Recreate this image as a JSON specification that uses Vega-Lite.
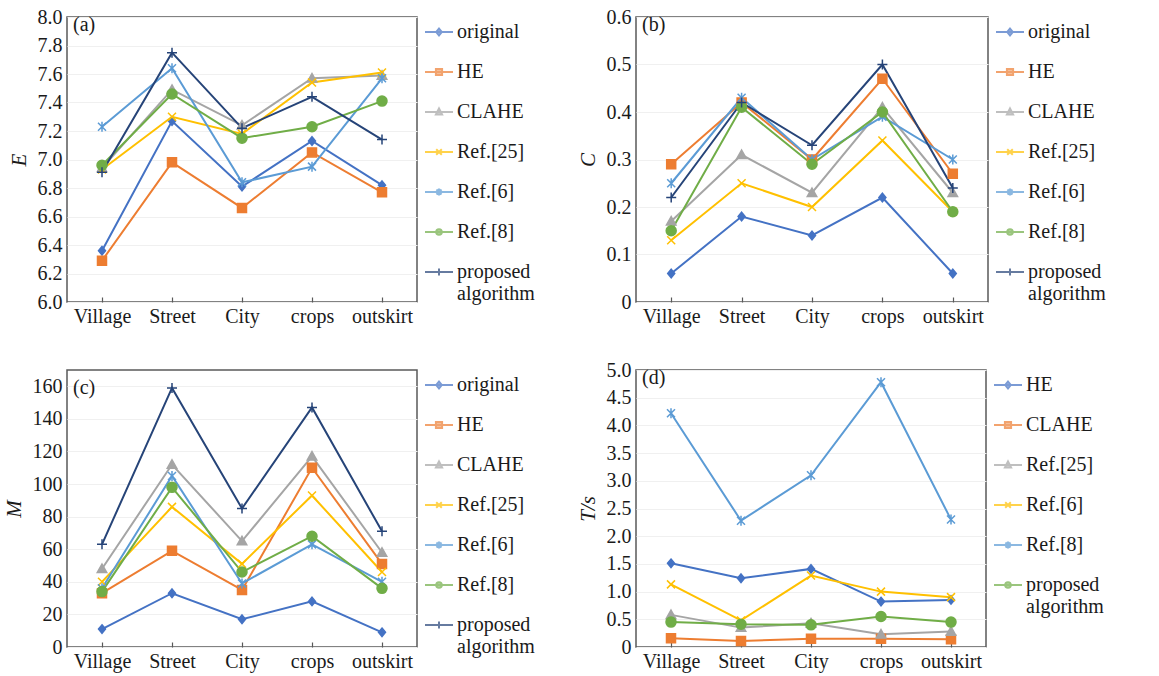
{
  "$schema": "https://vega.github.io/schema/vega-lite/v6.json",
  "background": "white",
  "padding": {"left": 2, "top": 6, "right": 4, "bottom": 2},
  "datasets": {
    "a": [
      {"cat": "Village", "series": "original", "v": 6.36}, {"cat": "Street", "series": "original", "v": 7.27}, {"cat": "City", "series": "original", "v": 6.81}, {"cat": "crops", "series": "original", "v": 7.13}, {"cat": "outskirt", "series": "original", "v": 6.82},
      {"cat": "Village", "series": "HE", "v": 6.29}, {"cat": "Street", "series": "HE", "v": 6.98}, {"cat": "City", "series": "HE", "v": 6.66}, {"cat": "crops", "series": "HE", "v": 7.05}, {"cat": "outskirt", "series": "HE", "v": 6.77},
      {"cat": "Village", "series": "CLAHE", "v": 6.94}, {"cat": "Street", "series": "CLAHE", "v": 7.49}, {"cat": "City", "series": "CLAHE", "v": 7.24}, {"cat": "crops", "series": "CLAHE", "v": 7.57}, {"cat": "outskirt", "series": "CLAHE", "v": 7.59},
      {"cat": "Village", "series": "Ref.[25]", "v": 6.93}, {"cat": "Street", "series": "Ref.[25]", "v": 7.30}, {"cat": "City", "series": "Ref.[25]", "v": 7.18}, {"cat": "crops", "series": "Ref.[25]", "v": 7.54}, {"cat": "outskirt", "series": "Ref.[25]", "v": 7.61},
      {"cat": "Village", "series": "Ref.[6]", "v": 7.23}, {"cat": "Street", "series": "Ref.[6]", "v": 7.64}, {"cat": "City", "series": "Ref.[6]", "v": 6.84}, {"cat": "crops", "series": "Ref.[6]", "v": 6.95}, {"cat": "outskirt", "series": "Ref.[6]", "v": 7.57},
      {"cat": "Village", "series": "Ref.[8]", "v": 6.96}, {"cat": "Street", "series": "Ref.[8]", "v": 7.46}, {"cat": "City", "series": "Ref.[8]", "v": 7.15}, {"cat": "crops", "series": "Ref.[8]", "v": 7.23}, {"cat": "outskirt", "series": "Ref.[8]", "v": 7.41},
      {"cat": "Village", "series": "proposed algorithm", "v": 6.91}, {"cat": "Street", "series": "proposed algorithm", "v": 7.75}, {"cat": "City", "series": "proposed algorithm", "v": 7.22}, {"cat": "crops", "series": "proposed algorithm", "v": 7.44}, {"cat": "outskirt", "series": "proposed algorithm", "v": 7.14}
    ],
    "b": [
      {"cat": "Village", "series": "original", "v": 0.06}, {"cat": "Street", "series": "original", "v": 0.18}, {"cat": "City", "series": "original", "v": 0.14}, {"cat": "crops", "series": "original", "v": 0.22}, {"cat": "outskirt", "series": "original", "v": 0.06},
      {"cat": "Village", "series": "HE", "v": 0.29}, {"cat": "Street", "series": "HE", "v": 0.42}, {"cat": "City", "series": "HE", "v": 0.30}, {"cat": "crops", "series": "HE", "v": 0.47}, {"cat": "outskirt", "series": "HE", "v": 0.27},
      {"cat": "Village", "series": "CLAHE", "v": 0.17}, {"cat": "Street", "series": "CLAHE", "v": 0.31}, {"cat": "City", "series": "CLAHE", "v": 0.23}, {"cat": "crops", "series": "CLAHE", "v": 0.41}, {"cat": "outskirt", "series": "CLAHE", "v": 0.23},
      {"cat": "Village", "series": "Ref.[25]", "v": 0.13}, {"cat": "Street", "series": "Ref.[25]", "v": 0.25}, {"cat": "City", "series": "Ref.[25]", "v": 0.20}, {"cat": "crops", "series": "Ref.[25]", "v": 0.34}, {"cat": "outskirt", "series": "Ref.[25]", "v": 0.19},
      {"cat": "Village", "series": "Ref.[6]", "v": 0.25}, {"cat": "Street", "series": "Ref.[6]", "v": 0.43}, {"cat": "City", "series": "Ref.[6]", "v": 0.30}, {"cat": "crops", "series": "Ref.[6]", "v": 0.39}, {"cat": "outskirt", "series": "Ref.[6]", "v": 0.30},
      {"cat": "Village", "series": "Ref.[8]", "v": 0.15}, {"cat": "Street", "series": "Ref.[8]", "v": 0.41}, {"cat": "City", "series": "Ref.[8]", "v": 0.29}, {"cat": "crops", "series": "Ref.[8]", "v": 0.40}, {"cat": "outskirt", "series": "Ref.[8]", "v": 0.19},
      {"cat": "Village", "series": "proposed algorithm", "v": 0.22}, {"cat": "Street", "series": "proposed algorithm", "v": 0.42}, {"cat": "City", "series": "proposed algorithm", "v": 0.33}, {"cat": "crops", "series": "proposed algorithm", "v": 0.50}, {"cat": "outskirt", "series": "proposed algorithm", "v": 0.24}
    ],
    "c": [
      {"cat": "Village", "series": "original", "v": 11}, {"cat": "Street", "series": "original", "v": 33}, {"cat": "City", "series": "original", "v": 17}, {"cat": "crops", "series": "original", "v": 28}, {"cat": "outskirt", "series": "original", "v": 9},
      {"cat": "Village", "series": "HE", "v": 33}, {"cat": "Street", "series": "HE", "v": 59}, {"cat": "City", "series": "HE", "v": 35}, {"cat": "crops", "series": "HE", "v": 110}, {"cat": "outskirt", "series": "HE", "v": 51},
      {"cat": "Village", "series": "CLAHE", "v": 48}, {"cat": "Street", "series": "CLAHE", "v": 112}, {"cat": "City", "series": "CLAHE", "v": 65}, {"cat": "crops", "series": "CLAHE", "v": 117}, {"cat": "outskirt", "series": "CLAHE", "v": 58},
      {"cat": "Village", "series": "Ref.[25]", "v": 40}, {"cat": "Street", "series": "Ref.[25]", "v": 86}, {"cat": "City", "series": "Ref.[25]", "v": 51}, {"cat": "crops", "series": "Ref.[25]", "v": 93}, {"cat": "outskirt", "series": "Ref.[25]", "v": 46},
      {"cat": "Village", "series": "Ref.[6]", "v": 36}, {"cat": "Street", "series": "Ref.[6]", "v": 105}, {"cat": "City", "series": "Ref.[6]", "v": 39}, {"cat": "crops", "series": "Ref.[6]", "v": 63}, {"cat": "outskirt", "series": "Ref.[6]", "v": 40},
      {"cat": "Village", "series": "Ref.[8]", "v": 34}, {"cat": "Street", "series": "Ref.[8]", "v": 98}, {"cat": "City", "series": "Ref.[8]", "v": 46}, {"cat": "crops", "series": "Ref.[8]", "v": 68}, {"cat": "outskirt", "series": "Ref.[8]", "v": 36},
      {"cat": "Village", "series": "proposed algorithm", "v": 63}, {"cat": "Street", "series": "proposed algorithm", "v": 159}, {"cat": "City", "series": "proposed algorithm", "v": 85}, {"cat": "crops", "series": "proposed algorithm", "v": 147}, {"cat": "outskirt", "series": "proposed algorithm", "v": 71}
    ],
    "d": [
      {"cat": "Village", "series": "HE", "v": 1.51}, {"cat": "Street", "series": "HE", "v": 1.24}, {"cat": "City", "series": "HE", "v": 1.41}, {"cat": "crops", "series": "HE", "v": 0.82}, {"cat": "outskirt", "series": "HE", "v": 0.85},
      {"cat": "Village", "series": "CLAHE", "v": 0.16}, {"cat": "Street", "series": "CLAHE", "v": 0.11}, {"cat": "City", "series": "CLAHE", "v": 0.15}, {"cat": "crops", "series": "CLAHE", "v": 0.15}, {"cat": "outskirt", "series": "CLAHE", "v": 0.14},
      {"cat": "Village", "series": "Ref.[25]", "v": 0.58}, {"cat": "Street", "series": "Ref.[25]", "v": 0.35}, {"cat": "City", "series": "Ref.[25]", "v": 0.43}, {"cat": "crops", "series": "Ref.[25]", "v": 0.23}, {"cat": "outskirt", "series": "Ref.[25]", "v": 0.28},
      {"cat": "Village", "series": "Ref.[6]", "v": 1.13}, {"cat": "Street", "series": "Ref.[6]", "v": 0.48}, {"cat": "City", "series": "Ref.[6]", "v": 1.29}, {"cat": "crops", "series": "Ref.[6]", "v": 1.0}, {"cat": "outskirt", "series": "Ref.[6]", "v": 0.9},
      {"cat": "Village", "series": "Ref.[8]", "v": 4.22}, {"cat": "Street", "series": "Ref.[8]", "v": 2.28}, {"cat": "City", "series": "Ref.[8]", "v": 3.1}, {"cat": "crops", "series": "Ref.[8]", "v": 4.78}, {"cat": "outskirt", "series": "Ref.[8]", "v": 2.3},
      {"cat": "Village", "series": "proposed algorithm", "v": 0.45}, {"cat": "Street", "series": "proposed algorithm", "v": 0.41}, {"cat": "City", "series": "proposed algorithm", "v": 0.40}, {"cat": "crops", "series": "proposed algorithm", "v": 0.55}, {"cat": "outskirt", "series": "proposed algorithm", "v": 0.45}
    ]
  },
  "columns": 2,
  "align": "each",
  "spacing": {"row": 32, "column": 40},
  "resolve": {
    "scale": {"fill": "independent", "stroke": "independent", "shape": "independent", "y": "independent", "x": "independent"},
    "legend": {"fill": "independent", "stroke": "independent", "shape": "independent"}
  },
  "concat": [
    {
      "title": {"text": "(a)"},
      "width": 350, "height": 285,
      "data": {"name": "a"},
      "encoding": {
        "x": {"field": "cat", "type": "nominal", "sort": ["Village", "Street", "City", "crops", "outskirt"], "scale": {"type": "point", "padding": 0.5}, "axis": {"title": null}},
        "y": {"field": "v", "type": "quantitative", "scale": {"domain": [6, 8], "nice": false, "zero": false}, "axis": {"title": "E", "values": [6, 6.2, 6.4, 6.6, 6.8, 7, 7.2, 7.4, 7.6, 7.8, 8], "format": ".1f"}}
      },
      "layer": [
        {"mark": {"type": "line", "strokeWidth": 2}, "encoding": {"stroke": {"field": "series", "type": "nominal", "scale": {"domain": ["original", "HE", "CLAHE", "Ref.[25]", "Ref.[6]", "Ref.[8]", "proposed algorithm"], "range": ["#4472C4", "#ED7D31", "#A5A5A5", "#FFC000", "#5B9BD5", "#70AD47", "#264478"]}, "legend": null}}},
        {"mark": {"type": "point", "size": 100, "strokeWidth": 1.5, "opacity": 1}, "encoding": {
          "fill": {"field": "series", "type": "nominal", "scale": {"domain": ["original", "HE", "CLAHE", "Ref.[25]", "Ref.[6]", "Ref.[8]", "proposed algorithm"], "range": ["#4472C4", "#ED7D31", "#A5A5A5", "#FFC000", "#5B9BD5", "#70AD47", "#264478"]}, "legend": null},
          "stroke": {"field": "series", "type": "nominal", "legend": null},
          "shape": {"field": "series", "type": "nominal", "scale": {"domain": ["original", "HE", "CLAHE", "Ref.[25]", "Ref.[6]", "Ref.[8]", "proposed algorithm"], "range": ["M0,-0.85L0.7,0L0,0.85L-0.7,0Z", "M-0.9,-0.9H0.9V0.9H-0.9Z", "M0,-0.95L0.95,0.75H-0.95Z", "M-0.8,-0.8L0.8,0.8M-0.8,0.8L0.8,-0.8", "M-0.8,-0.8L0.8,0.8M-0.8,0.8L0.8,-0.8M0,-1V1", "circle", "M-1,0H1M0,-1V1"]}, "legend": null}
        }},
        {"transform": [{"filter": "false"}], "mark": {"type": "point"}, "encoding": {
          "fill": {"field": "series", "type": "nominal", "legend": {"title": null, "labelExpr": "datum.label == 'proposed algorithm' ? ['proposed', 'algorithm'] : datum.label"}},
          "stroke": {"field": "series", "type": "nominal", "legend": {"title": null, "labelExpr": "datum.label == 'proposed algorithm' ? ['proposed', 'algorithm'] : datum.label"}},
          "shape": {"field": "series", "type": "nominal", "scale": {"domain": ["original", "HE", "CLAHE", "Ref.[25]", "Ref.[6]", "Ref.[8]", "proposed algorithm"], "range": ["M-1,0H1M0,-0.25L0.2,0L0,0.25L-0.2,0Z", "M-1,0H1M-0.22,-0.22H0.22V0.22H-0.22Z", "M-1,0H1M0,-0.25L0.22,0.17H-0.22Z", "M-1,0H1M-0.2,-0.2L0.2,0.2M-0.2,0.2L0.2,-0.2", "M-1,0H1M-0.18,-0.18L0.18,0.18M-0.18,0.18L0.18,-0.18M0,-0.25V0.25", "M-1,0H1M0.2,0A0.2,0.2,0,1,1,-0.2,0A0.2,0.2,0,1,1,0.2,0Z", "M-1,0H1M0,-0.25V0.25"]}, "legend": {"title": null, "labelExpr": "datum.label == 'proposed algorithm' ? ['proposed', 'algorithm'] : datum.label"}}
        }}
      ],
      "resolve": {"scale": {"shape": "independent"}, "legend": {"shape": "independent", "fill": "independent", "stroke": "independent"}}
    },
    {
      "title": {"text": "(b)"},
      "width": 352, "height": 285,
      "data": {"name": "b"},
      "encoding": {
        "x": {"field": "cat", "type": "nominal", "sort": ["Village", "Street", "City", "crops", "outskirt"], "scale": {"type": "point", "padding": 0.5}, "axis": {"title": null}},
        "y": {"field": "v", "type": "quantitative", "scale": {"domain": [0, 0.6], "nice": false}, "axis": {"title": "C", "values": [0, 0.1, 0.2, 0.3, 0.4, 0.5, 0.6], "labelExpr": "datum.value == 0 ? '0' : format(datum.value, '.1f')"}}
      },
      "layer": [
        {"mark": {"type": "line", "strokeWidth": 2}, "encoding": {"stroke": {"field": "series", "type": "nominal", "scale": {"domain": ["original", "HE", "CLAHE", "Ref.[25]", "Ref.[6]", "Ref.[8]", "proposed algorithm"], "range": ["#4472C4", "#ED7D31", "#A5A5A5", "#FFC000", "#5B9BD5", "#70AD47", "#264478"]}, "legend": null}}},
        {"mark": {"type": "point", "size": 100, "strokeWidth": 1.5, "opacity": 1}, "encoding": {
          "fill": {"field": "series", "type": "nominal", "scale": {"domain": ["original", "HE", "CLAHE", "Ref.[25]", "Ref.[6]", "Ref.[8]", "proposed algorithm"], "range": ["#4472C4", "#ED7D31", "#A5A5A5", "#FFC000", "#5B9BD5", "#70AD47", "#264478"]}, "legend": null},
          "stroke": {"field": "series", "type": "nominal", "legend": null},
          "shape": {"field": "series", "type": "nominal", "scale": {"domain": ["original", "HE", "CLAHE", "Ref.[25]", "Ref.[6]", "Ref.[8]", "proposed algorithm"], "range": ["M0,-0.85L0.7,0L0,0.85L-0.7,0Z", "M-0.9,-0.9H0.9V0.9H-0.9Z", "M0,-0.95L0.95,0.75H-0.95Z", "M-0.8,-0.8L0.8,0.8M-0.8,0.8L0.8,-0.8", "M-0.8,-0.8L0.8,0.8M-0.8,0.8L0.8,-0.8M0,-1V1", "circle", "M-1,0H1M0,-1V1"]}, "legend": null}
        }},
        {"transform": [{"filter": "false"}], "mark": {"type": "point"}, "encoding": {
          "fill": {"field": "series", "type": "nominal", "legend": {"title": null, "labelExpr": "datum.label == 'proposed algorithm' ? ['proposed', 'algorithm'] : datum.label"}},
          "stroke": {"field": "series", "type": "nominal", "legend": {"title": null, "labelExpr": "datum.label == 'proposed algorithm' ? ['proposed', 'algorithm'] : datum.label"}},
          "shape": {"field": "series", "type": "nominal", "scale": {"domain": ["original", "HE", "CLAHE", "Ref.[25]", "Ref.[6]", "Ref.[8]", "proposed algorithm"], "range": ["M-1,0H1M0,-0.25L0.2,0L0,0.25L-0.2,0Z", "M-1,0H1M-0.22,-0.22H0.22V0.22H-0.22Z", "M-1,0H1M0,-0.25L0.22,0.17H-0.22Z", "M-1,0H1M-0.2,-0.2L0.2,0.2M-0.2,0.2L0.2,-0.2", "M-1,0H1M-0.18,-0.18L0.18,0.18M-0.18,0.18L0.18,-0.18M0,-0.25V0.25", "M-1,0H1M0.2,0A0.2,0.2,0,1,1,-0.2,0A0.2,0.2,0,1,1,0.2,0Z", "M-1,0H1M0,-0.25V0.25"]}, "legend": {"title": null, "labelExpr": "datum.label == 'proposed algorithm' ? ['proposed', 'algorithm'] : datum.label"}}
        }}
      ],
      "resolve": {"scale": {"shape": "independent"}, "legend": {"shape": "independent", "fill": "independent", "stroke": "independent"}}
    },
    {
      "title": {"text": "(c)"},
      "width": 350, "height": 277,
      "data": {"name": "c"},
      "encoding": {
        "x": {"field": "cat", "type": "nominal", "sort": ["Village", "Street", "City", "crops", "outskirt"], "scale": {"type": "point", "padding": 0.5}, "axis": {"title": null}},
        "y": {"field": "v", "type": "quantitative", "scale": {"domain": [0, 170], "nice": false}, "axis": {"title": "M", "values": [0, 20, 40, 60, 80, 100, 120, 140, 160]}}
      },
      "layer": [
        {"mark": {"type": "line", "strokeWidth": 2}, "encoding": {"stroke": {"field": "series", "type": "nominal", "scale": {"domain": ["original", "HE", "CLAHE", "Ref.[25]", "Ref.[6]", "Ref.[8]", "proposed algorithm"], "range": ["#4472C4", "#ED7D31", "#A5A5A5", "#FFC000", "#5B9BD5", "#70AD47", "#264478"]}, "legend": null}}},
        {"mark": {"type": "point", "size": 100, "strokeWidth": 1.5, "opacity": 1}, "encoding": {
          "fill": {"field": "series", "type": "nominal", "scale": {"domain": ["original", "HE", "CLAHE", "Ref.[25]", "Ref.[6]", "Ref.[8]", "proposed algorithm"], "range": ["#4472C4", "#ED7D31", "#A5A5A5", "#FFC000", "#5B9BD5", "#70AD47", "#264478"]}, "legend": null},
          "stroke": {"field": "series", "type": "nominal", "legend": null},
          "shape": {"field": "series", "type": "nominal", "scale": {"domain": ["original", "HE", "CLAHE", "Ref.[25]", "Ref.[6]", "Ref.[8]", "proposed algorithm"], "range": ["M0,-0.85L0.7,0L0,0.85L-0.7,0Z", "M-0.9,-0.9H0.9V0.9H-0.9Z", "M0,-0.95L0.95,0.75H-0.95Z", "M-0.8,-0.8L0.8,0.8M-0.8,0.8L0.8,-0.8", "M-0.8,-0.8L0.8,0.8M-0.8,0.8L0.8,-0.8M0,-1V1", "circle", "M-1,0H1M0,-1V1"]}, "legend": null}
        }},
        {"transform": [{"filter": "false"}], "mark": {"type": "point"}, "encoding": {
          "fill": {"field": "series", "type": "nominal", "legend": {"title": null, "labelExpr": "datum.label == 'proposed algorithm' ? ['proposed', 'algorithm'] : datum.label"}},
          "stroke": {"field": "series", "type": "nominal", "legend": {"title": null, "labelExpr": "datum.label == 'proposed algorithm' ? ['proposed', 'algorithm'] : datum.label"}},
          "shape": {"field": "series", "type": "nominal", "scale": {"domain": ["original", "HE", "CLAHE", "Ref.[25]", "Ref.[6]", "Ref.[8]", "proposed algorithm"], "range": ["M-1,0H1M0,-0.25L0.2,0L0,0.25L-0.2,0Z", "M-1,0H1M-0.22,-0.22H0.22V0.22H-0.22Z", "M-1,0H1M0,-0.25L0.22,0.17H-0.22Z", "M-1,0H1M-0.2,-0.2L0.2,0.2M-0.2,0.2L0.2,-0.2", "M-1,0H1M-0.18,-0.18L0.18,0.18M-0.18,0.18L0.18,-0.18M0,-0.25V0.25", "M-1,0H1M0.2,0A0.2,0.2,0,1,1,-0.2,0A0.2,0.2,0,1,1,0.2,0Z", "M-1,0H1M0,-0.25V0.25"]}, "legend": {"title": null, "labelExpr": "datum.label == 'proposed algorithm' ? ['proposed', 'algorithm'] : datum.label"}}
        }}
      ],
      "resolve": {"scale": {"shape": "independent"}, "legend": {"shape": "independent", "fill": "independent", "stroke": "independent"}}
    },
    {
      "title": {"text": "(d)"},
      "width": 350, "height": 277,
      "data": {"name": "d"},
      "encoding": {
        "x": {"field": "cat", "type": "nominal", "sort": ["Village", "Street", "City", "crops", "outskirt"], "scale": {"type": "point", "padding": 0.5}, "axis": {"title": null}},
        "y": {"field": "v", "type": "quantitative", "scale": {"domain": [0, 5], "nice": false}, "axis": {"title": "T/s", "values": [0, 0.5, 1, 1.5, 2, 2.5, 3, 3.5, 4, 4.5, 5], "labelExpr": "datum.value == 0 ? '0' : format(datum.value, '.1f')"}}
      },
      "layer": [
        {"mark": {"type": "line", "strokeWidth": 2}, "encoding": {"stroke": {"field": "series", "type": "nominal", "scale": {"domain": ["HE", "CLAHE", "Ref.[25]", "Ref.[6]", "Ref.[8]", "proposed algorithm"], "range": ["#4472C4", "#ED7D31", "#A5A5A5", "#FFC000", "#5B9BD5", "#70AD47"]}, "legend": null}}},
        {"mark": {"type": "point", "size": 100, "strokeWidth": 1.5, "opacity": 1}, "encoding": {
          "fill": {"field": "series", "type": "nominal", "scale": {"domain": ["HE", "CLAHE", "Ref.[25]", "Ref.[6]", "Ref.[8]", "proposed algorithm"], "range": ["#4472C4", "#ED7D31", "#A5A5A5", "#FFC000", "#5B9BD5", "#70AD47"]}, "legend": null},
          "stroke": {"field": "series", "type": "nominal", "legend": null},
          "shape": {"field": "series", "type": "nominal", "scale": {"domain": ["HE", "CLAHE", "Ref.[25]", "Ref.[6]", "Ref.[8]", "proposed algorithm"], "range": ["M0,-0.85L0.7,0L0,0.85L-0.7,0Z", "M-0.9,-0.9H0.9V0.9H-0.9Z", "M0,-0.95L0.95,0.75H-0.95Z", "M-0.8,-0.8L0.8,0.8M-0.8,0.8L0.8,-0.8", "M-0.8,-0.8L0.8,0.8M-0.8,0.8L0.8,-0.8M0,-1V1", "circle"]}, "legend": null}
        }},
        {"transform": [{"filter": "false"}], "mark": {"type": "point"}, "encoding": {
          "fill": {"field": "series", "type": "nominal", "legend": {"title": null, "labelExpr": "datum.label == 'proposed algorithm' ? ['proposed', 'algorithm'] : datum.label"}},
          "stroke": {"field": "series", "type": "nominal", "legend": {"title": null, "labelExpr": "datum.label == 'proposed algorithm' ? ['proposed', 'algorithm'] : datum.label"}},
          "shape": {"field": "series", "type": "nominal", "scale": {"domain": ["HE", "CLAHE", "Ref.[25]", "Ref.[6]", "Ref.[8]", "proposed algorithm"], "range": ["M-1,0H1M0,-0.25L0.2,0L0,0.25L-0.2,0Z", "M-1,0H1M-0.22,-0.22H0.22V0.22H-0.22Z", "M-1,0H1M0,-0.25L0.22,0.17H-0.22Z", "M-1,0H1M-0.2,-0.2L0.2,0.2M-0.2,0.2L0.2,-0.2", "M-1,0H1M-0.18,-0.18L0.18,0.18M-0.18,0.18L0.18,-0.18M0,-0.25V0.25", "M-1,0H1M0.2,0A0.2,0.2,0,1,1,-0.2,0A0.2,0.2,0,1,1,0.2,0Z"]}, "legend": {"title": null, "labelExpr": "datum.label == 'proposed algorithm' ? ['proposed', 'algorithm'] : datum.label"}}
        }}
      ],
      "resolve": {"scale": {"shape": "independent"}, "legend": {"shape": "independent", "fill": "independent", "stroke": "independent"}}
    }
  ],
  "config": {
    "font": "Liberation Serif",
    "view": {"stroke": "#595959", "strokeWidth": 1.5},
    "title": {"anchor": "start", "frame": "group", "orient": "top", "offset": -28, "dx": 6, "font": "Liberation Serif", "fontSize": 20, "fontWeight": "normal", "color": "#1a1a1a"},
    "axis": {"labelFont": "Liberation Serif", "labelFontSize": 20, "labelColor": "#1a1a1a", "titleFont": "Liberation Serif", "titleFontSize": 21, "titleFontStyle": "italic", "titleFontWeight": "normal", "titleColor": "#1a1a1a", "domain": false},
    "axisX": {"labelAngle": 0, "grid": false, "ticks": true, "tickSize": -5, "tickColor": "#595959", "tickWidth": 1.2, "labelPadding": 9},
    "axisY": {"ticks": false, "grid": true, "gridColor": "#f0f0f0", "labelPadding": 5, "titlePadding": 8},
    "legend": {"orient": "right", "offset": 7, "padding": 0, "symbolSize": 784, "symbolStrokeWidth": 2, "labelFont": "Liberation Serif", "labelFontSize": 20, "labelColor": "#1a1a1a", "rowPadding": 15, "labelOffset": 3, "labelLimit": 200}
  }
}
